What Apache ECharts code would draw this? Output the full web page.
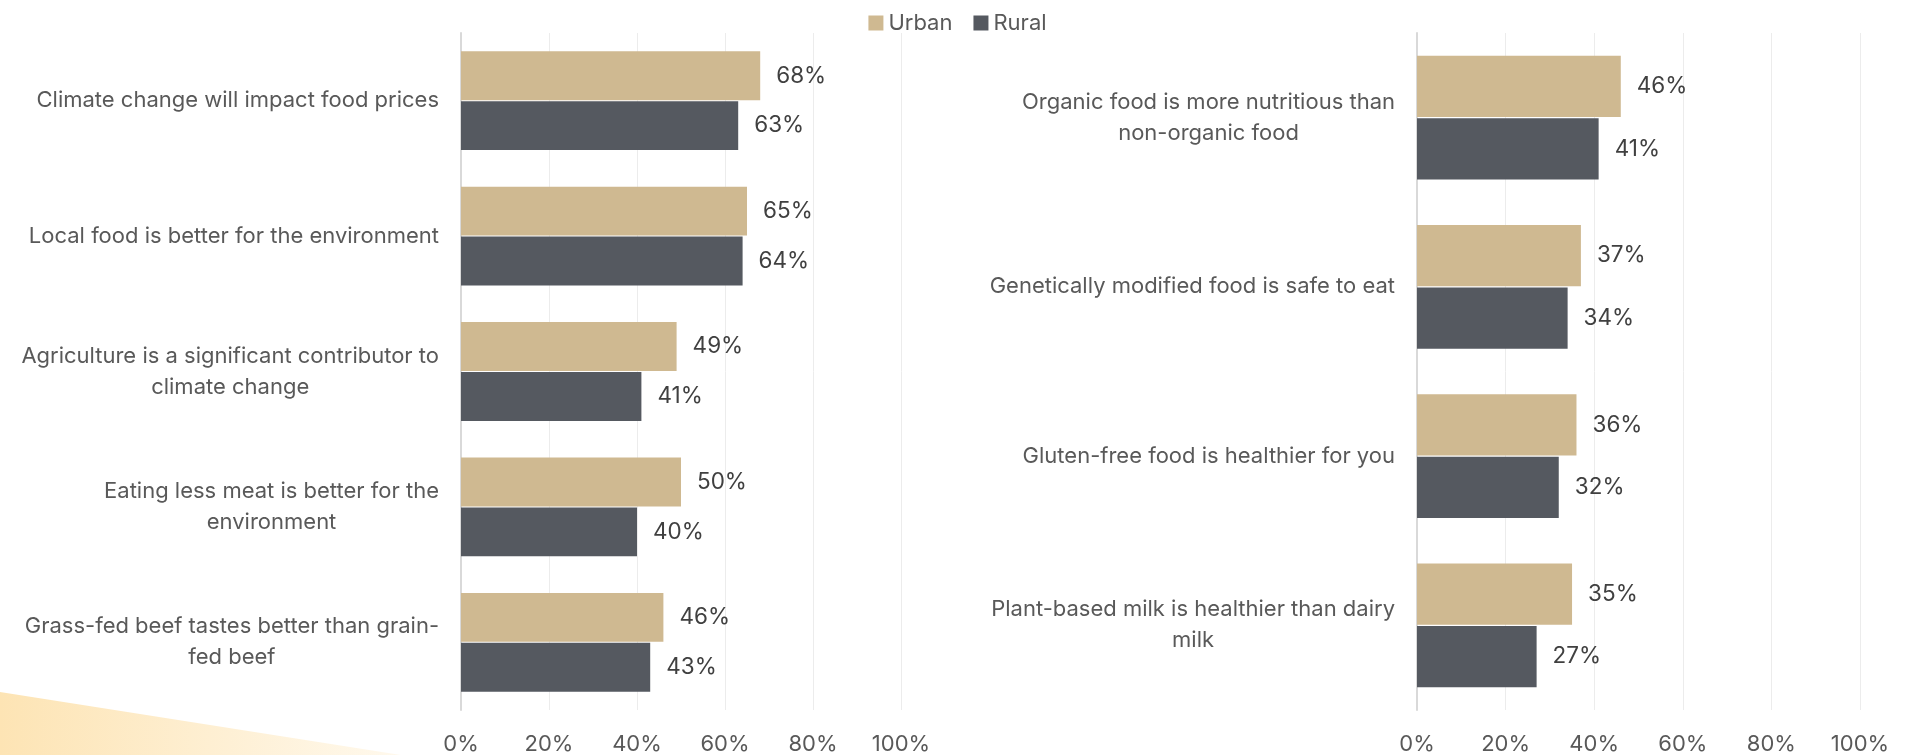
<!DOCTYPE html>
<html>
<head>
<meta charset="utf-8">
<style>
  html, body { margin: 0; padding: 0; background: #ffffff; }
  #chart { width: 1915px; height: 755px; }
</style>
<script src="https://cdn.jsdelivr.net/npm/echarts@6/dist/echarts.min.js"></script>
</head>
<body>
<div id="chart"></div>
<script>
// Attitudes about food and climate, urban vs rural respondents (share who agree)
const seriesNames = ['Urban', 'Rural'];

const leftCategories = [
  'Climate change will impact food prices',
  'Local food is better for the environment',
  'Agriculture is a significant contributor to\nclimate change',
  'Eating less meat is better for the\nenvironment',
  'Grass-fed beef tastes better than grain-\nfed beef'
];
const leftUrban = [68, 65, 49, 50, 46];
const leftRural = [63, 64, 41, 40, 43];

const rightCategories = [
  'Organic food is more nutritious than\nnon-organic food',
  'Genetically modified food is safe to eat',
  'Gluten-free food is healthier for you',
  'Plant-based milk is healthier than dairy\nmilk'
];
const rightUrban = [46, 37, 36, 35];
const rightRural = [41, 34, 32, 27];

const axisTicks = [0, 20, 40, 60, 80, 100];

const FONT = 'Inter, Roboto, "Noto Sans", sans-serif';
const COLOR_URBAN = '#cfb991';
const COLOR_RURAL = '#555960';
const TEXT_GREY = '#595959';

const chart = echarts.init(document.getElementById('chart'), null, { renderer: 'canvas' });

// multi-line category labels: block right-aligned to the axis, lines centred within it
function categoryLabel(value) {
  return value.split('\n').map(line => '{c|' + line + '}').join('\n');
}

function valueAxis(gridIndex) {
  return {
    type: 'value',
    gridIndex: gridIndex,
    min: axisTicks[0],
    max: axisTicks[axisTicks.length - 1],
    interval: axisTicks[1] - axisTicks[0],
    axisLine: { show: false },
    axisTick: { show: false },
    splitLine: { show: true, lineStyle: { color: '#ececec', width: 1 } },
    axisLabel: {
      formatter: '{value}%',
      color: TEXT_GREY,
      fontFamily: FONT,
      fontSize: 22,
      margin: 23
    }
  };
}

function categoryAxis(gridIndex, data) {
  return {
    type: 'category',
    gridIndex: gridIndex,
    data: data,
    inverse: true,
    axisLine: { show: true, lineStyle: { color: '#d9d9d9', width: 2 } },
    axisTick: { show: false },
    axisLabel: {
      margin: 22,
      formatter: categoryLabel,
      rich: {
        c: {
          align: 'center',
          color: TEXT_GREY,
          fontFamily: FONT,
          fontSize: 22,
          lineHeight: 31
        }
      }
    }
  };
}

function barSeries(name, data, axisIndex, color) {
  return {
    name: name,
    type: 'bar',
    xAxisIndex: axisIndex,
    yAxisIndex: axisIndex,
    data: data,
    barGap: '2%',
    barCategoryGap: '27%',
    itemStyle: { color: color },
    label: {
      show: true,
      position: 'right',
      distance: 16,
      formatter: '{c}%',
      color: '#404040',
      fontFamily: FONT,
      fontSize: 22.5
    },
    emphasis: { disabled: true }
  };
}

chart.setOption({
  backgroundColor: '#ffffff',
  animation: false,
  legend: {
    data: seriesNames,
    top: 7,
    left: 'center',
    itemWidth: 15,
    itemHeight: 15,
    itemGap: 21,
    icon: 'rect',
    textStyle: { color: TEXT_GREY, fontFamily: FONT, fontSize: 22 }
  },
  graphic: [{
    type: 'polygon',
    z: -10,
    silent: true,
    shape: { points: [[0, 692], [420, 758], [0, 758]] },
    style: {
      fill: {
        type: 'linear', x: 0, y: 0, x2: 1, y2: 0,
        colorStops: [
          { offset: 0, color: '#fde4b4' },
          { offset: 1, color: '#fffaf0' }
        ]
      }
    }
  }],
  grid: [
    { left: 461, width: 440, top: 33, bottom: 45 },
    { left: 1417, width: 443, top: 33, bottom: 45 }
  ],
  xAxis: [valueAxis(0), valueAxis(1)],
  yAxis: [categoryAxis(0, leftCategories), categoryAxis(1, rightCategories)],
  series: [
    barSeries(seriesNames[0], leftUrban, 0, COLOR_URBAN),
    barSeries(seriesNames[1], leftRural, 0, COLOR_RURAL),
    barSeries(seriesNames[0], rightUrban, 1, COLOR_URBAN),
    barSeries(seriesNames[1], rightRural, 1, COLOR_RURAL)
  ]
});
</script>
</body>
</html>
